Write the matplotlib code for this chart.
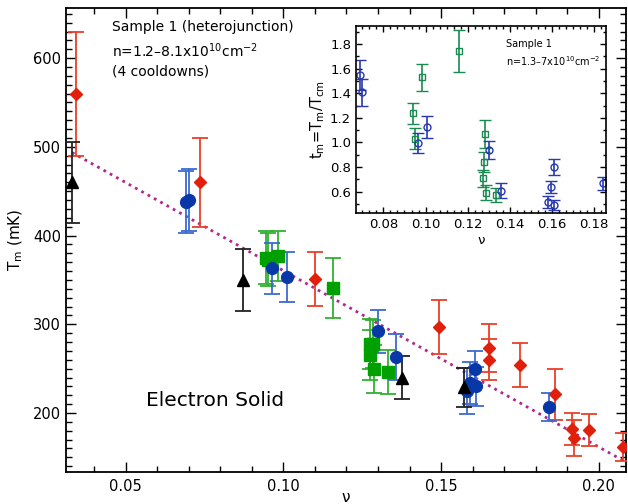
import numpy as np
import matplotlib
matplotlib.use('Agg')
import matplotlib.pyplot as plt
from matplotlib.ticker import MultipleLocator, FormatStrFormatter

plt.rcParams['font.family'] = ['DejaVu Sans']
plt.rcParams['mathtext.default'] = 'regular'

# main panel: T_m (mK) vs filling factor nu, four cooldowns
black_nu = [0.0330, 0.0873, 0.1376, 0.1571]
black_T = [460, 350, 240, 229]
black_err = [46, 35, 24, 22]

red_nu = [0.0344, 0.0736, 0.1101, 0.1493, 0.1653, 0.1653, 0.1750, 0.1860, 0.1914, 0.1920, 0.1970, 0.2078]
red_T = [560, 460, 351, 297, 273, 260, 254, 221, 182, 172, 181, 162]
red_err = [70, 50, 30, 30, 27, 23, 25, 29, 18, 20, 18, 16]

blue_nu = [0.0690, 0.0701, 0.0965, 0.1010, 0.1301, 0.1356, 0.1583, 0.1593, 0.1608, 0.1609, 0.1841]
blue_T = [438, 440, 363, 353, 292, 263, 225, 234, 250, 230, 207]
blue_err = [35, 35, 29, 28, 24, 26, 26, 24, 20, 22, 16]

green_nu = [0.0946, 0.0951, 0.0983, 0.1157, 0.1274, 0.1284, 0.1274, 0.1288, 0.1332]
green_T = [375, 373, 377, 341, 278, 278, 265, 250, 246]
green_err = [30, 30, 28, 34, 28, 27, 28, 27, 25]

fit_nu = [0.0330, 0.2100]
fit_T = [493.6, 141.8]

# inset: t_m = T_m / T_cm
in_blue_nu = [0.0689, 0.0699, 0.0963, 0.1006, 0.1300, 0.1357, 0.1583, 0.1594, 0.1608, 0.1608, 0.1844]
in_blue_t = [1.548, 1.407, 0.993, 1.128, 0.938, 0.607, 0.518, 0.640, 0.491, 0.802, 0.667]
in_blue_err = [0.12, 0.11, 0.08, 0.088, 0.076, 0.062, 0.05, 0.05, 0.04, 0.064, 0.054]

in_green_nu = [0.0942, 0.0949, 0.0984, 0.1158, 0.1274, 0.1279, 0.1284, 0.1289, 0.1333]
in_green_t = [1.237, 1.030, 1.529, 1.746, 0.708, 0.843, 1.068, 0.591, 0.572]
in_green_err = [0.087, 0.084, 0.111, 0.17, 0.07, 0.08, 0.115, 0.06, 0.055]

fig = plt.figure(figsize=(6.28, 5.04), dpi=100)
ax = fig.add_axes([66/628, 1-472/504, 560/628, 464/504])

ax.plot(fit_nu, fit_T, color='#b0288f', lw=2, linestyle=(0, (1, 1.6)), zorder=1)

ax.errorbar(red_nu, red_T, yerr=red_err, fmt='D', ms=6.5, color='#e0200a',
            ecolor='#e8402a', elinewidth=1.3, capsize=5.5, capthick=1.3, zorder=3)
ax.errorbar(green_nu, green_T, yerr=green_err, fmt='s', ms=8, color='#00a000',
            ecolor='#30b030', elinewidth=1.3, capsize=5.5, capthick=1.3, zorder=3)
ax.errorbar(blue_nu, blue_T, yerr=blue_err, fmt='o', ms=8.5, color='#0838a8',
            ecolor='#3a6ad0', elinewidth=1.3, capsize=5.5, capthick=1.3, zorder=3)
ax.errorbar(black_nu, black_T, yerr=black_err, fmt='^', ms=8, color='black',
            ecolor='#222222', elinewidth=1.3, capsize=5.5, capthick=1.3, zorder=3)

ax.set_xlim(0.0311, 0.2086)
ax.set_ylim(133.5, 656.5)
ax.xaxis.set_major_locator(MultipleLocator(0.05))
ax.xaxis.set_minor_locator(MultipleLocator(0.01))
ax.xaxis.set_major_formatter(FormatStrFormatter('%.2f'))
ax.yaxis.set_major_locator(MultipleLocator(100))
ax.yaxis.set_minor_locator(MultipleLocator(10))
ax.tick_params(which='both', direction='in', top=True, right=True, labelsize=10.5, width=1)
ax.tick_params(which='major', length=7)
ax.tick_params(which='minor', length=4)
ax.tick_params(axis='x', pad=5)
for s in ax.spines.values():
    s.set_linewidth(1.3)
ax.set_xlabel('ν', fontsize=11, labelpad=-3)
ax.set_ylabel('T$_m$ (mK)', fontsize=11, labelpad=6)

ax.text(0.082, 0.975, 'Sample 1 (heterojunction)', transform=ax.transAxes,
        fontsize=10, va='top')
ax.text(0.082, 0.928, 'n=1.2–8.1x10$^{10}$cm$^{-2}$', transform=ax.transAxes,
        fontsize=10, va='top')
ax.text(0.082, 0.878, '(4 cooldowns)', transform=ax.transAxes,
        fontsize=10, va='top')
ax.text(0.142, 0.143, 'Electron Solid', transform=ax.transAxes, fontsize=14.5)

# inset
ins = fig.add_axes([356/628, 1-213/504, 250/628, 187/504])
ins.errorbar(in_green_nu, in_green_t, yerr=in_green_err, fmt='s', ms=5,
             mfc='none', mec='#1a8a50', mew=1, ecolor='#1a8a50',
             elinewidth=1.2, capsize=4.5, capthick=1.2)
ins.errorbar(in_blue_nu, in_blue_t, yerr=in_blue_err, fmt='o', ms=5,
             mfc='none', mec='#2838b0', mew=1, ecolor='#2838b0',
             elinewidth=1.2, capsize=4.5, capthick=1.2)
ins.set_xlim(0.067, 0.1856)
ins.set_ylim(0.427, 1.946)
ins.xaxis.set_major_locator(MultipleLocator(0.02))
ins.xaxis.set_minor_locator(MultipleLocator(0.02/6))
ins.xaxis.set_major_formatter(FormatStrFormatter('%.2f'))
ins.yaxis.set_major_locator(MultipleLocator(0.2))
ins.yaxis.set_minor_locator(MultipleLocator(0.1))
ins.yaxis.set_major_formatter(FormatStrFormatter('%.1f'))
ins.tick_params(which='both', direction='in', top=True, right=True, labelsize=9.5, width=1)
ins.tick_params(which='major', length=4)
ins.tick_params(which='minor', length=2.5)
for s in ins.spines.values():
    s.set_linewidth(1.2)
ins.set_xlabel('ν', fontsize=9.5, labelpad=2)
ins.set_ylabel('t$_m$=T$_m$/T$_{cm}$', fontsize=10.5, labelpad=2)
ins.text(0.6, 0.93, 'Sample 1', transform=ins.transAxes, fontsize=7, va='top')
ins.text(0.6, 0.85, 'n=1.3–7x10$^{10}$cm$^{-2}$', transform=ins.transAxes,
         fontsize=7, va='top')

fig.savefig('out.png', dpi=100)
